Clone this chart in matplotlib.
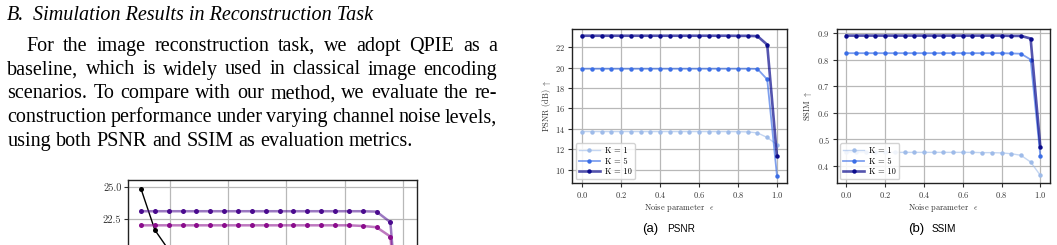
import numpy as np
import matplotlib
matplotlib.use("Agg")
import matplotlib.pyplot as plt
from matplotlib.colors import to_rgba

# ---- data ----
eps = [0.0, 0.05, 0.1, 0.15, 0.2, 0.25, 0.3, 0.35, 0.4, 0.45, 0.5,
       0.55, 0.6, 0.65, 0.7, 0.75, 0.8, 0.85, 0.9, 0.95, 1.0]

psnr_k1 = [13.73, 13.73, 13.73, 13.73, 13.73, 13.73, 13.73, 13.73, 13.73, 13.73, 13.73,
           13.73, 13.73, 13.73, 13.73, 13.73, 13.72, 13.70, 13.60, 13.15, 12.45]
psnr_k5 = [19.90, 19.90, 19.90, 19.90, 19.90, 19.90, 19.90, 19.90, 19.90, 19.90, 19.90,
           19.90, 19.90, 19.90, 19.90, 19.90, 19.90, 19.90, 19.88, 18.85, 9.40]
psnr_k10 = [23.14, 23.14, 23.14, 23.14, 23.14, 23.14, 23.14, 23.14, 23.14, 23.14, 23.14,
            23.14, 23.14, 23.14, 23.14, 23.14, 23.13, 23.13, 23.10, 22.26, 11.30]

ssim_k1 = [0.451, 0.451, 0.451, 0.451, 0.451, 0.451, 0.451, 0.451, 0.451, 0.451, 0.451,
           0.451, 0.451, 0.451, 0.450, 0.450, 0.449, 0.446, 0.440, 0.415, 0.365]
ssim_k5 = [0.824, 0.824, 0.824, 0.824, 0.824, 0.824, 0.824, 0.824, 0.824, 0.824, 0.824,
           0.824, 0.824, 0.824, 0.824, 0.824, 0.824, 0.823, 0.822, 0.800, 0.438]
ssim_k10 = [0.890, 0.890, 0.890, 0.890, 0.890, 0.890, 0.890, 0.890, 0.890, 0.890, 0.890,
            0.890, 0.890, 0.890, 0.890, 0.890, 0.890, 0.889, 0.889, 0.879, 0.472]

k_labels = ["K = 1", "K = 5", "K = 10"]
k_colors = ["#9ebbe9", "#3b6ee6", "#0b0b8c"]
k_widths = [1.0, 1.3, 1.9]
k_alpha = [0.6, 0.65, 0.7]

# partially visible chart at the bottom left of the page
left_x = [0, 1, 2, 3, 4, 5, 6, 7, 8, 9, 10, 11, 12, 13, 14, 15, 16, 17, 18, 19]
left_black = [24.87, 21.66, 20.10, 18.90]
left_purple = [23.13, 23.13, 23.13, 23.13, 23.13, 23.13, 23.13, 23.13, 23.13, 23.13,
               23.13, 23.13, 23.13, 23.13, 23.13, 23.13, 23.13, 23.10, 22.27, 9.00]
left_magenta = [22.03, 22.03, 22.03, 22.03, 22.03, 22.03, 22.03, 22.03, 22.03, 22.03,
                22.03, 22.03, 22.03, 22.03, 22.03, 22.03, 21.98, 21.88, 21.15, 9.50]

heading = ["B.", "Simulation Results in Reconstruction Task"]
para_lines = [
    "For the image reconstruction task, we adopt QPIE as a",
    "baseline, which is widely used in classical image encoding",
    "scenarios. To compare with our method, we evaluate the re-",
    "construction performance under varying channel noise levels,",
    "using both PSNR and SSIM as evaluation metrics.",
]

W, H = 1057, 245
plt.rcParams.update({
    "font.family": "serif",
    "font.serif": ["cmr10"],
    "mathtext.fontset": "cm",
    "axes.formatter.use_mathtext": True,
    "axes.unicode_minus": False,
})

fig = plt.figure(figsize=(W / 100, H / 100), dpi=100)
renderer = fig.canvas.get_renderer()


def px_box(l, t, r, b):
    return [l / W, 1 - b / H, (r - l) / W, (b - t) / H]


def put_words(words, x0, x1, base, size, justify=True, style="normal"):
    texts = [fig.text(0, 1 - base / H, w, fontsize=size, family="Liberation Serif",
                      style=style, va="baseline") for w in words]
    widths = [t.get_window_extent(renderer).width for t in texts]
    if justify and len(words) > 1:
        gap = (x1 - x0 - sum(widths)) / (len(words) - 1)
    else:
        gap = size * 100 / 72 * 0.25
    x = x0
    for t, w in zip(texts, widths):
        t.set_x(x / W)
        x += w + gap


# ---- page text ----
txt_size = 14.5
fig.text(7.3 / W, 1 - 20 / H, heading[0], fontsize=txt_size, family="Liberation Serif",
         style="italic", va="baseline")
fig.text(33.3 / W, 1 - 20 / H, heading[1], fontsize=txt_size, family="Liberation Serif",
         style="italic", va="baseline")
for i, line in enumerate(para_lines):
    x0 = 26.7 if i == 0 else 7.3
    put_words(line.split(), x0, 497.3, 50.6 + 23.9 * i, txt_size,
              justify=(i < len(para_lines) - 1))


def style_axes(ax, size):
    ax.grid(True, color="#b8b8b8", lw=0.9)
    ax.set_axisbelow(True)
    for s in ax.spines.values():
        s.set_color("#222222")
        s.set_linewidth(1.0)
    ax.tick_params(direction="out", length=3, width=0.8, pad=2, labelsize=size,
                   colors="#333333")


def trace(ax, x, y, color, lw, label=None, alpha=0.6, ms=3.2):
    ax.plot(x, y, color=to_rgba(color, alpha), lw=lw, marker="o", ms=ms,
            mfc=color, mec=color, mew=0, label=label)


# ---- left partial chart ----
axl = fig.add_axes(px_box(128.3, 180, 416.7, 400))
x_pos = np.array(left_x) / 21
trace(axl, x_pos[:len(left_black)], left_black, "#000000", 1.0, alpha=1.0, ms=3.6)
trace(axl, x_pos, left_purple, "#4a0a8e", 1.8, alpha=0.55, ms=3.6)
trace(axl, x_pos, left_magenta, "#8a0c8c", 1.8, alpha=0.55, ms=3.6)
axl.set_xlim(-0.0438, 0.9476)
axl.set_ylim(8.38, 25.57)
axl.set_xticks([0.1, 0.3, 0.5, 0.7, 0.9])
axl.set_yticks([22.5, 25.0])
axl.set_yticklabels(["22.5", "25.0"])
style_axes(axl, 7.5)
axl.tick_params(axis="x", labelbottom=False, length=0)

# ---- PSNR ----
ax1 = fig.add_axes(px_box(572.3, 28.7, 786.7, 182.7))
for y, c, lab, lw, a in zip([psnr_k1, psnr_k5, psnr_k10], k_colors, k_labels, k_widths, k_alpha):
    trace(ax1, eps, y, c, lw, label=lab, alpha=a)
ax1.set_xlim(-0.05, 1.05)
ax1.set_ylim(8.71, 23.83)
ax1.set_yticks([10, 12, 14, 16, 18, 20, 22])
ax1.set_xticks([0.0, 0.2, 0.4, 0.6, 0.8, 1.0])
style_axes(ax1, 6)
ax1.set_xlabel(r"Noise parameter  $\epsilon$", fontsize=6, labelpad=1.5, color="#333333")
ax1.set_ylabel(r"PSNR (dB) $\uparrow$", fontsize=6, labelpad=2, color="#333333")

# ---- SSIM ----
ax2 = fig.add_axes(px_box(836.7, 28.7, 1050, 182.7))
for y, c, lab, lw, a in zip([ssim_k1, ssim_k5, ssim_k10], k_colors, k_labels, k_widths, k_alpha):
    trace(ax2, eps, y, c, lw, label=lab, alpha=a)
ax2.set_xlim(-0.05, 1.05)
ax2.set_ylim(0.337, 0.916)
ax2.set_yticks([0.4, 0.5, 0.6, 0.7, 0.8, 0.9])
ax2.set_xticks([0.0, 0.2, 0.4, 0.6, 0.8, 1.0])
style_axes(ax2, 6)
ax2.set_xlabel(r"Noise parameter  $\epsilon$", fontsize=6, labelpad=1.5, color="#333333")
ax2.set_ylabel(r"SSIM $\uparrow$", fontsize=6, labelpad=2, color="#333333")

for ax in (ax1, ax2):
    ax.legend(loc="lower left", fontsize=6, handlelength=2.5, labelspacing=0.25,
              borderpad=0.4, handletextpad=0.6, framealpha=0.85, edgecolor="#cccccc",
              borderaxespad=0.4)

# ---- captions ----
for x_lab, x_name, name in [(641.7, 666.7, "PSNR"), (908.3, 931.7, "SSIM")]:
    fig.text(x_lab / W, 1 - 231.5 / H, "(a)" if name == "PSNR" else "(b)",
             fontsize=9.5, family="Liberation Sans", va="baseline")
    fig.text(x_name / W, 1 - 231.5 / H, name, fontsize=7.2,
             family="Liberation Sans", va="baseline")

fig.savefig("out.png", dpi=100)
